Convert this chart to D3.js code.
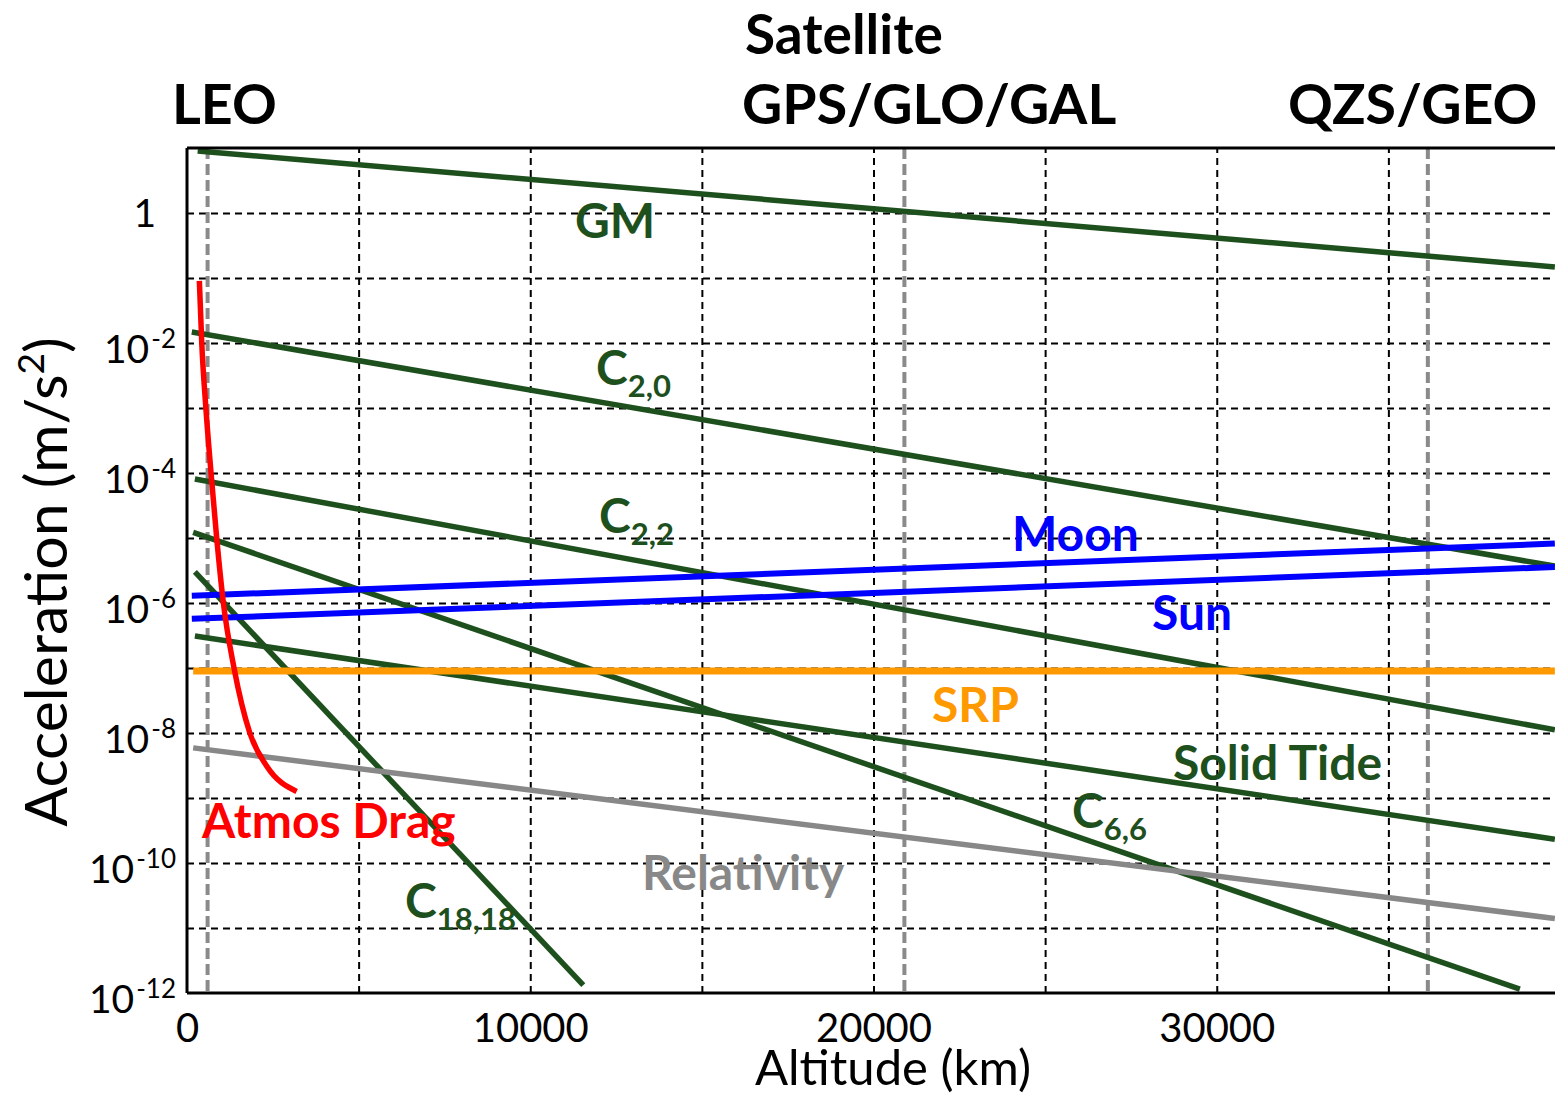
<!DOCTYPE html>
<html>
<head>
<meta charset="utf-8">
<script src="https://cdn.jsdelivr.net/npm/d3@7"></script>
<style>
  body { margin: 0; background: #fff; overflow: hidden; }
  text { font-family: Lato, "Open Sans", sans-serif; }
</style>
</head>
<body>
<div id="chart"></div>
<script>
const MARGIN = { TOP: 148, LEFT: 187 }
const WIDTH = 1373     // plot runs a few px past the page edge, like the original crop
const HEIGHT = 845

// altitude (km) and acceleration (m/s^2)
const gmAlt = [310, 39850]
const gmAcc = [9.0, 0.148]
const c20Alt = [140, 39850]
const c20Acc = [1.48e-2, 3.7e-6]
const c22Alt = [230, 39850]
const c22Acc = [8.1e-5, 1.12e-8]
const c66Alt = [180, 38830]
const c66Acc = [1.22e-5, 1.15e-12]
const c1818Alt = [230, 11545]
const c1818Acc = [3.0e-6, 1.32e-12]
const moonAlt = [140, 39850]
const moonAcc = [1.29e-6, 8.2e-6]
const sunAlt = [140, 39850]
const sunAcc = [5.7e-7, 3.58e-6]
const tideAlt = [230, 39850]
const tideAcc = [3.1e-7, 2.32e-10]
const srpAlt = [180, 39850]
const srpAcc = [9.0e-8, 9.0e-8]
const relAlt = [180, 39850]
const relAcc = [5.9e-9, 1.4e-11]
const dragAlt = [360, 430, 550, 700, 865, 1060, 1370, 1830, 2320, 3195]
const dragAcc = [9e-2, 1e-2, 1e-3, 1e-4, 1e-5, 1e-6, 1e-7, 1e-8, 3.1e-9, 1.26e-9]

const orbitNames = ["LEO", "GPS/GLO/GAL", "QZS/GEO"]
const orbitAlt = [600, 20900, 36150]

const xTicks = [0, 10000, 20000, 30000]
const xGridVals = [5000, 10000, 15000, 20000, 25000, 30000, 35000]
const yTickExps = [0, -2, -4, -6, -8, -10, -12]
const yGridExps = [0, -1, -2, -3, -4, -5, -6, -7, -8, -9, -10, -11]

const GREEN = "#1e501e"

const series = [
	{ alt: gmAlt, acc: gmAcc, color: GREEN, width: 5.5 },
	{ alt: c20Alt, acc: c20Acc, color: GREEN, width: 5.5 },
	{ alt: c22Alt, acc: c22Acc, color: GREEN, width: 5.5 },
	{ alt: c66Alt, acc: c66Acc, color: GREEN, width: 5.5 },
	{ alt: c1818Alt, acc: c1818Acc, color: GREEN, width: 5.5 },
	{ alt: tideAlt, acc: tideAcc, color: GREEN, width: 5.5 },
	{ alt: relAlt, acc: relAcc, color: "#888888", width: 5.5 },
	{ alt: srpAlt, acc: srpAcc, color: "#ff9900", width: 7 },
	{ alt: moonAlt, acc: moonAcc, color: "#0000ff", width: 6 },
	{ alt: sunAlt, acc: sunAcc, color: "#0000ff", width: 6 },
	{ alt: dragAlt, acc: dragAcc, color: "#ff0000", width: 5.5, curve: true }
]

// label placement in page pixels (start x, baseline y)
const labels = [
	{ text: "GM", x: 575, y: 238, color: GREEN },
	{ text: "C", sub: "2,0", x: 596, y: 385, color: GREEN },
	{ text: "C", sub: "2,2", x: 599, y: 533, color: GREEN },
	{ text: "Moon", x: 1012, y: 551, color: "#0000ff" },
	{ text: "Sun", x: 1152, y: 630, color: "#0000ff" },
	{ text: "SRP", x: 932, y: 722, color: "#ff9900" },
	{ text: "Solid Tide", x: 1173, y: 780, color: GREEN },
	{ text: "C", sub: "6,6", x: 1072, y: 828, color: GREEN },
	{ text: "Relativity", x: 642, y: 890, color: "#888888" },
	{ text: "C", sub: "18,18", x: 405, y: 918, color: GREEN },
	{ text: "Atmos Drag", x: 202, y: 838, color: "#ff0000" }
]
const orbitLabelPos = [{ x: 172, y: 124 }, { x: 742, y: 124 }, { x: 1288, y: 124 }]

const svg = d3.select("#chart").append("svg")
	.attr("width", 1555)
	.attr("height", 1096)

const g = svg.append("g")
	.attr("transform", `translate(${MARGIN.LEFT}, ${MARGIN.TOP})`)

const x = d3.scaleLinear()
	.domain([0, 40000])
	.range([0, WIDTH])

const y = d3.scaleLog()
	.domain([1e-12, 10])
	.range([HEIGHT, 0])

// grid
const xGrid = g.append("g")
	.attr("transform", `translate(0, ${HEIGHT})`)
	.call(d3.axisBottom(x).tickValues(xGridVals).tickSize(-HEIGHT).tickFormat(""))
const yGrid = g.append("g")
	.call(d3.axisLeft(y).tickValues(yGridExps.map(e => Math.pow(10, e))).tickSize(-WIDTH).tickFormat(""))
;[xGrid, yGrid].forEach(a => {
	a.select(".domain").remove()
	a.selectAll("line")
		.attr("stroke", "#000")
		.attr("stroke-width", 2)
		.attr("stroke-dasharray", "7,5")
})

// orbit altitudes
g.selectAll(".orbit")
	.data(orbitAlt)
	.enter().append("line")
		.attr("class", "orbit")
		.attr("x1", d => x(d))
		.attr("x2", d => x(d))
		.attr("y1", 0)
		.attr("y2", HEIGHT)
		.attr("stroke", "#8a8a8a")
		.attr("stroke-width", 4)
		.attr("stroke-dasharray", "11,5")

// series lines
const line = d3.line()
	.x(d => x(d[0]))
	.y(d => y(d[1]))

g.selectAll(".series")
	.data(series)
	.enter().append("path")
		.attr("class", "series")
		.attr("fill", "none")
		.attr("stroke", d => d.color)
		.attr("stroke-width", d => d.width)
		.attr("d", d => line.curve(d.curve ? d3.curveMonotoneX : d3.curveLinear)(d3.zip(d.alt, d.acc)))

// frame: left, top, bottom
const frame = g.append("g").attr("stroke", "#000").attr("stroke-width", 3)
frame.append("line").attr("x1", 0).attr("x2", 0).attr("y1", 0).attr("y2", HEIGHT)
frame.append("line").attr("x1", 0).attr("x2", WIDTH).attr("y1", 0).attr("y2", 0)
frame.append("line").attr("x1", 0).attr("x2", WIDTH).attr("y1", HEIGHT).attr("y2", HEIGHT)

// x tick labels
const xAxis = g.append("g")
	.attr("transform", `translate(0, ${HEIGHT})`)
	.call(d3.axisBottom(x).tickValues(xTicks).tickSize(0).tickPadding(21).tickFormat(d3.format("d")))
xAxis.select(".domain").remove()
xAxis.selectAll("text")
	.attr("font-family", "Lato")
	.attr("font-size", 40)
	.attr("fill", "#000")

// y tick labels with superscript exponents
const yLabels = g.selectAll(".ytick")
	.data(yTickExps)
	.enter().append("text")
		.attr("class", "ytick")
		.attr("text-anchor", "end")
		.attr("x", d => d === 0 ? -31 : -11)
		.attr("y", d => y(Math.pow(10, d)) + (d === 0 ? 14 : 20))
		.attr("font-size", 39)
		.attr("fill", "#000")
yLabels.append("tspan")
	.text(d => d === 0 ? "1" : "10")
yLabels.filter(d => d !== 0).append("tspan")
	.attr("font-size", 26)
	.attr("dy", -15)
	.attr("dx", 2)
	.text(d => String(d))

// axis titles
svg.append("text")
	.attr("x", 893)
	.attr("y", 1085)
	.attr("text-anchor", "middle")
	.attr("font-size", 49)
	.text("Altitude (km)")

const yTitle = svg.append("text")
	.attr("transform", "translate(67, 582) rotate(-90)")
	.attr("text-anchor", "middle")
	.attr("font-size", 59)
yTitle.append("tspan").text("Acceleration (m/s")
yTitle.append("tspan").attr("font-size", 37).attr("dy", -23).text("2")
yTitle.append("tspan").attr("dy", 23).text(")")

// orbit titles
svg.append("text")
	.attr("x", 745)
	.attr("y", 54)
	.attr("font-size", 55)
	.attr("font-weight", "bold")
	.text("Satellite")

svg.selectAll(".orbitLabel")
	.data(orbitNames)
	.enter().append("text")
		.attr("class", "orbitLabel")
		.attr("x", (d, i) => orbitLabelPos[i].x)
		.attr("y", (d, i) => orbitLabelPos[i].y)
		.attr("font-size", 55.5)
		.attr("font-weight", "bold")
		.text(d => d)

// series labels
const lab = svg.selectAll(".serLabel")
	.data(labels)
	.enter().append("text")
		.attr("class", "serLabel")
		.attr("x", d => d.x)
		.attr("y", d => d.y)
		.attr("fill", d => d.color)
		.attr("font-size", 48)
		.attr("font-weight", "bold")
lab.append("tspan").text(d => d.text)
lab.filter(d => d.sub).append("tspan")
	.attr("font-size", 31)
	.attr("dy", 12)
	.text(d => d.sub)
</script>
</body>
</html>
